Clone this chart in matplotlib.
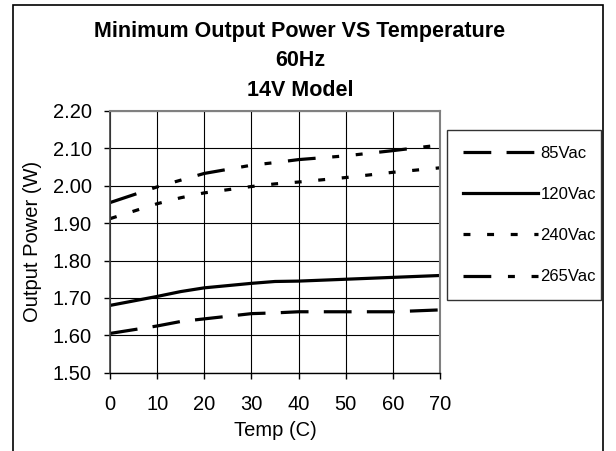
import matplotlib
matplotlib.use("Agg")
import matplotlib.pyplot as plt
from matplotlib.patches import Rectangle

plt.rcParams["font.family"] = ["Liberation Sans", "DejaVu Sans"]
plt.rcParams["lines.scale_dashes"] = False

# =====================================
# Data
# =====================================

temps = [0, 10, 15, 20, 30, 35, 40, 50, 60, 70]

p_85 = [1.605, 1.625, 1.637, 1.644, 1.658, 1.660, 1.663, 1.663, 1.663, 1.668]
p_120 = [1.680, 1.704, 1.717, 1.727, 1.739, 1.744, 1.745, 1.750, 1.755, 1.760]
p_240 = [1.912, 1.952, 1.968, 1.981, 1.998, 2.005, 2.010, 2.022, 2.036, 2.048]
p_265 = [1.955, 1.997, 2.015, 2.033, 2.055, 2.062, 2.070, 2.080, 2.094, 2.109]

series_labels = ["85Vac", "120Vac", "240Vac", "265Vac"]

x_ticks = [0, 10, 20, 30, 40, 50, 60, 70]
y_ticks = [1.50, 1.60, 1.70, 1.80, 1.90, 2.00, 2.10, 2.20]

title_lines = ["Minimum Output Power VS Temperature", "60Hz", "14V Model"]

# =====================================
# Figure
# =====================================

fig = plt.figure(figsize=(6.16, 4.51), dpi=100)

ax = fig.add_axes([0.1786, 0.1736, 0.5357, 0.5803])

lw = 2.3

ax.plot(temps, p_85, color="black", lw=lw,
        linestyle=(0, (20, 11)), label=series_labels[0])
ax.plot(temps, p_120, color="black", lw=lw,
        linestyle="-", label=series_labels[1])
ax.plot(temps, p_240, color="black", lw=lw,
        linestyle=(0, (5, 12)), label=series_labels[2])
ax.plot(temps, p_265, color="black", lw=lw,
        linestyle=(0, (20, 12, 5, 12, 5, 12)), label=series_labels[3])

ax.set_xlim(0, 70)
ax.set_ylim(1.5, 2.2)

ax.set_xticks(x_ticks)
ax.set_xticklabels([str(t) for t in x_ticks])
ax.set_yticks(y_ticks)
ax.set_yticklabels(["%.2f" % v for v in y_ticks])

ax.tick_params(axis="both", direction="out", length=4,
               width=1, labelsize=14.5, colors="black")
ax.tick_params(axis="y", pad=9)
ax.tick_params(axis="x", pad=12)

ax.grid(True, color="black", linewidth=0.8)
ax.set_axisbelow(True)

for side in ["top", "right"]:
    ax.spines[side].set_color("#808080")
    ax.spines[side].set_linewidth(1.5)
ax.spines["left"].set_color("#404040")
ax.spines["left"].set_linewidth(1.2)
ax.spines["bottom"].set_color("black")
ax.spines["bottom"].set_linewidth(1.0)

ax.set_xlabel("Temp (C)", fontsize=14.5, labelpad=5)
ax.set_ylabel("Output Power (W)", fontsize=14.5, labelpad=8)

# title block
title_y = [1 - 32 / 451, 1 - 61 / 451, 1 - 90 / 451]
for txt, ty in zip(title_lines, title_y):
    fig.text(0.487, ty, txt, ha="center", va="center",
             fontsize=15.5, fontweight="bold")

# legend
leg = ax.legend(
    loc="upper left",
    bbox_to_anchor=(447 / 616, 1 - 130 / 451, 154 / 616, 0.0),
    bbox_transform=fig.transFigure,
    mode="expand",
    fontsize=12,
    handlelength=4.5,
    handletextpad=0.15,
    labelspacing=1.57,
    borderpad=0.95,
    borderaxespad=0,
    fancybox=False,
    frameon=True,
)
leg.get_frame().set_edgecolor("black")
leg.get_frame().set_linewidth(1.0)

# outer chart border
fig.patches.append(
    Rectangle((13 / 616, -0.05), 590 / 616, 0.05 + 1 - 5 / 451,
              transform=fig.transFigure, fill=False,
              edgecolor="black", linewidth=1.2)
)

plt.savefig("out.png", dpi=100)
